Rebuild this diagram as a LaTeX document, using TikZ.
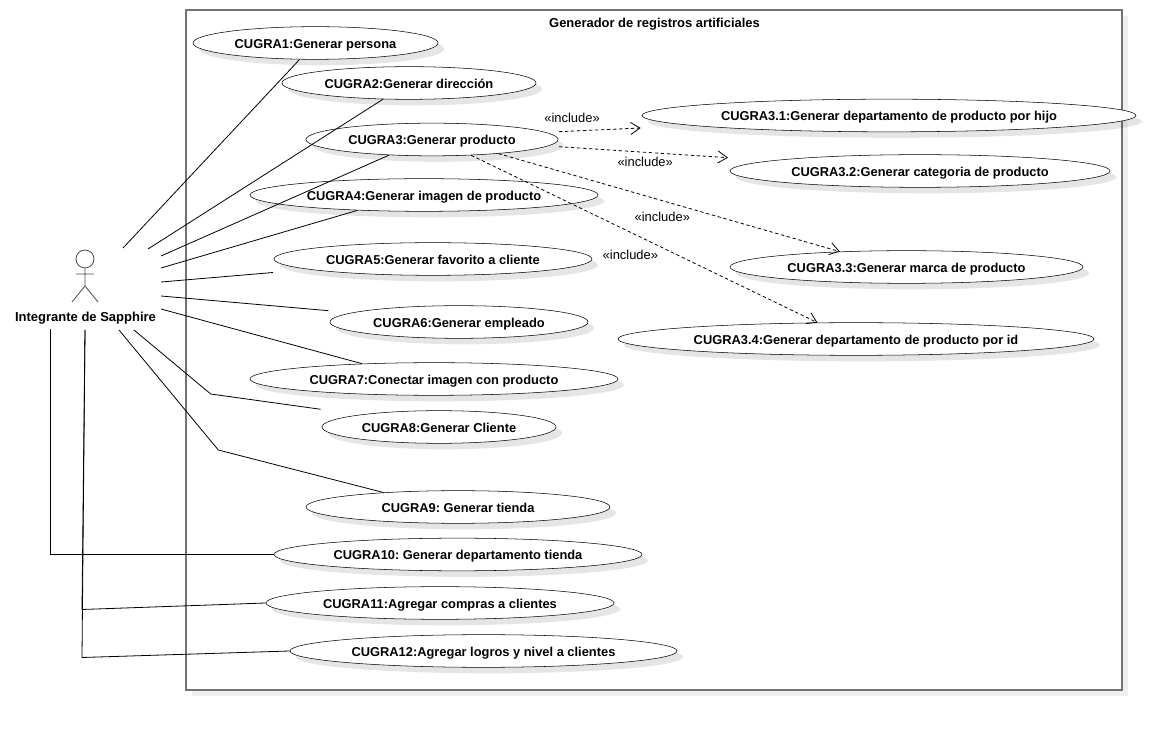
\documentclass[tikz,border=0pt]{standalone}
\usepackage{fontspec}
\setmainfont{Liberation Sans}
\usetikzlibrary{shapes.geometric,shadows,arrows.meta}
\tikzset{
  usecase/.style={shape=ellipse,draw=black,fill=white,inner sep=0pt,minimum height=24.5pt,text height=8pt,text depth=0pt,
    font=\frenchspacing\bfseries\fontsize{9.65pt}{11pt}\selectfont,
    drop shadow={shadow xshift=4.5pt,shadow yshift=-4.5pt,fill=black,opacity=0.1}},
  assoc/.style={draw=black,line width=0.6pt},
  incl/.style={draw=black,line width=0.6pt,dash pattern=on 2.5pt off 2pt,-{Straight Barb[length=7pt,width=9pt]}},
  stereo/.style={font=\fontsize{9.7pt}{11pt}\selectfont}
}
\begin{document}
\begin{tikzpicture}[x=0.75pt,y=-0.75pt]
\useasboundingbox (0,0) rectangle (1175,730);
\node[draw=black!55,line width=1.1pt,fill=white,minimum width=702pt,minimum height=510pt,inner sep=0pt,
  drop shadow={shadow xshift=4.5pt,shadow yshift=-4.5pt,fill=black,opacity=0.06}] (Frame) at (654,350) {};
\node[text height=8pt,text depth=0pt,inner sep=0pt,font=\bfseries\fontsize{9.7pt}{11pt}\selectfont] (Title) at (654.5,22) {Generador de registros artificiales};

% actor
\node[shape=circle,draw=black!70,line width=0.6pt,minimum size=13.5pt,inner sep=0pt] (Head) at (85,259) {};
\coordinate (Hip) at (85,286);
\coordinate (ArmL) at (76,274);
\coordinate (ArmR) at (94,274);
\coordinate (FootL) at (72,302);
\coordinate (FootR) at (98,302);
\path [draw=black!70,line width=0.6pt] (Head) -- (Hip) (ArmL) -- (ArmR) (FootL) -- (Hip) -- (FootR);
\node[text height=8pt,text depth=0pt,inner sep=0pt,font=\bfseries\fontsize{9.75pt}{11pt}\selectfont] (Actor) at (85.5,316.5) {Integrante de Sapphire};

% casos de uso
\node[usecase,minimum width=183.75pt] (U1) at (315.5,43) {CUGRA1:Generar persona};
\node[usecase,minimum width=190.5pt] (U2) at (409,83) {CUGRA2:Generar dirección};
\node[usecase,minimum width=189pt] (U3) at (432,139.5) {CUGRA3:Generar producto};
\node[usecase,minimum width=261pt] (U4) at (424,195) {CUGRA4:Generar imagen de producto};
\node[usecase,minimum width=238.5pt] (U5) at (433,259) {CUGRA5:Generar favorito a cliente};
\node[usecase,minimum width=193.5pt] (U6) at (459,322) {CUGRA6:Generar empleado};
\node[usecase,minimum width=276pt] (U7) at (434,379) {CUGRA7:Conectar imagen con producto};
\node[usecase,minimum width=175.5pt] (U8) at (439,427) {CUGRA8:Generar Cliente};
\node[usecase,minimum width=228pt] (U9) at (458,507) {CUGRA9: Generar tienda};
\node[usecase,minimum width=276pt] (U10) at (458,554.5) {CUGRA10: Generar departamento tienda};
\node[usecase,minimum width=261pt] (U11) at (440,603) {CUGRA11:Agregar compras a clientes};
\node[usecase,minimum width=290.25pt] (U12) at (483.5,651) {CUGRA12:Agregar logros y nivel a clientes};
\node[usecase,minimum width=370.5pt] (U31) at (889,115.5) {CUGRA3.1:Generar departamento de producto por hijo};
\node[usecase,minimum width=285pt] (U32) at (920,171) {CUGRA3.2:Generar categoria de producto};
\node[usecase,minimum width=264.75pt] (U33) at (906.5,267) {CUGRA3.3:Generar marca de producto};
\node[usecase,minimum width=357pt] (U34) at (856,339) {CUGRA3.4:Generar departamento de producto por id};

% extremos libres
\coordinate (A1) at (123,248);
\coordinate (A2) at (148,249);
\coordinate (A3) at (161,256);
\coordinate (A4) at (161,268);
\coordinate (A5) at (161,282);
\coordinate (A6) at (161,296);
\coordinate (A7) at (161,309);
\coordinate (A8) at (134,330);
\coordinate (A9) at (119,330);
\coordinate (A10) at (50,329);
\coordinate (A11) at (85,330);
\coordinate (E5) at (273,272.5);
\coordinate (E6) at (328.5,310.7);
\coordinate (E8) at (320.7,409.3);
\coordinate (B8) at (210.7,394);
\coordinate (B9) at (218.3,450);
\coordinate (B10) at (50,554.5);
\coordinate (B11) at (82,609.5);
\coordinate (B12) at (82,657.5);
\coordinate (D1) at (559,131.7);
\coordinate (D2) at (559,146.7);
\coordinate (T1) at (640.7,128);
\coordinate (T2) at (728,157.7);

% asociaciones
\draw [assoc] (A1) -- (U1.226);
\draw [assoc] (A2) -- (U2.212);
\draw [assoc] (A3) -- (U3.200);
\draw [assoc] (A4) -- (U4.193.6);
\draw [assoc] (A5) -- (E5);
\draw [assoc] (A6) -- (E6);
\draw [assoc] (A7) -- (U7.168.2);
\draw [assoc] (A8) -- (B8) -- (E8);
\draw [assoc] (A9) -- (B9) -- (U9.169.6);
\draw [assoc] (A10) -- (B10) -- (U10.west);
\draw [assoc] (A11) -- (B11) -- (U11.180.8);
\draw [assoc] (A11) -- (B12) -- (U12.180.9);

% include
\path (D1) edge[incl] node[stereo,pos=0.16,above=2.5pt] {«include»} (T1);
\path (D2) edge[incl] node[stereo,pos=0.51,below=0pt] {«include»} (T2);
\path (U3.-12) edge[incl] node[stereo,pos=0.48,below=5pt] {«include»} (U33.167.9);
\path (U3.-22.4) edge[incl] node[stereo,pos=0.46,below=9.5pt] {«include»} (U34.157.7);
\end{tikzpicture}
\end{document}
